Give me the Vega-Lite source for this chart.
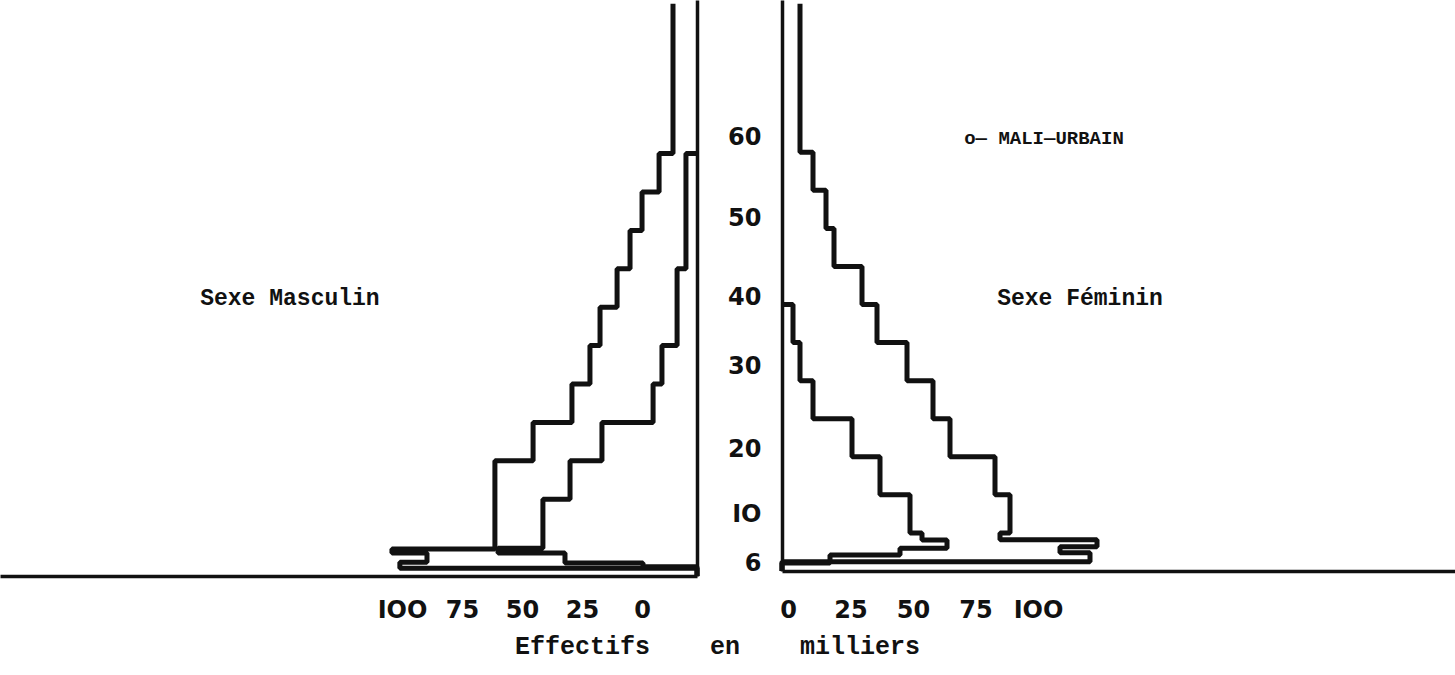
{
  "$schema": "https://vega.github.io/schema/vega-lite/v6.json",
  "padding": 0,
  "background": "white",
  "bounds": "flush",
  "spacing": 85,
  "config": {"view": {"stroke": null}},
  "datasets": {
    "pyramide": [
      {"sexe": "Masculin", "serie": "externe", "age": 5, "effectif": 0},
      {"sexe": "Masculin", "serie": "externe", "age": 6.0, "effectif": 123.8},
      {"sexe": "Masculin", "serie": "externe", "age": 6.8, "effectif": 112.5},
      {"sexe": "Masculin", "serie": "externe", "age": 8.0, "effectif": 127.1},
      {"sexe": "Masculin", "serie": "externe", "age": 8.5, "effectif": 84.2},
      {"sexe": "Masculin", "serie": "externe", "age": 20, "effectif": 68.3},
      {"sexe": "Masculin", "serie": "externe", "age": 25, "effectif": 52.1},
      {"sexe": "Masculin", "serie": "externe", "age": 30, "effectif": 44.6},
      {"sexe": "Masculin", "serie": "externe", "age": 35, "effectif": 40.4},
      {"sexe": "Masculin", "serie": "externe", "age": 40, "effectif": 33.3},
      {"sexe": "Masculin", "serie": "externe", "age": 45, "effectif": 27.9},
      {"sexe": "Masculin", "serie": "externe", "age": 50, "effectif": 22.9},
      {"sexe": "Masculin", "serie": "externe", "age": 55, "effectif": 15.8},
      {"sexe": "Masculin", "serie": "externe", "age": 60, "effectif": 10.0},
      {"sexe": "Masculin", "serie": "externe", "age": 79.5, "effectif": 10.0},
      {"sexe": "Masculin", "serie": "interne", "age": 5, "effectif": 0},
      {"sexe": "Masculin", "serie": "interne", "age": 6.2, "effectif": 22.5},
      {"sexe": "Masculin", "serie": "interne", "age": 6.7, "effectif": 55},
      {"sexe": "Masculin", "serie": "interne", "age": 8.0, "effectif": 82.9},
      {"sexe": "Masculin", "serie": "interne", "age": 8.6, "effectif": 64.2},
      {"sexe": "Masculin", "serie": "interne", "age": 15, "effectif": 52.9},
      {"sexe": "Masculin", "serie": "interne", "age": 20, "effectif": 39.6},
      {"sexe": "Masculin", "serie": "interne", "age": 25, "effectif": 18.3},
      {"sexe": "Masculin", "serie": "interne", "age": 30, "effectif": 14.6},
      {"sexe": "Masculin", "serie": "interne", "age": 35, "effectif": 8.3},
      {"sexe": "Masculin", "serie": "interne", "age": 45, "effectif": 4.6},
      {"sexe": "Masculin", "serie": "interne", "age": 60, "effectif": 0},
      {"sexe": "Féminin", "serie": "externe", "age": 5, "effectif": 0},
      {"sexe": "Féminin", "serie": "externe", "age": 6.2, "effectif": 123.2},
      {"sexe": "Féminin", "serie": "externe", "age": 7.4, "effectif": 111.2},
      {"sexe": "Féminin", "serie": "externe", "age": 8.2, "effectif": 126},
      {"sexe": "Féminin", "serie": "externe", "age": 9.1, "effectif": 87.2},
      {"sexe": "Féminin", "serie": "externe", "age": 10, "effectif": 91.2},
      {"sexe": "Féminin", "serie": "externe", "age": 15, "effectif": 85.2},
      {"sexe": "Féminin", "serie": "externe", "age": 20, "effectif": 67.2},
      {"sexe": "Féminin", "serie": "externe", "age": 25, "effectif": 60.4},
      {"sexe": "Féminin", "serie": "externe", "age": 30, "effectif": 50},
      {"sexe": "Féminin", "serie": "externe", "age": 35, "effectif": 38},
      {"sexe": "Féminin", "serie": "externe", "age": 40, "effectif": 32},
      {"sexe": "Féminin", "serie": "externe", "age": 45, "effectif": 20.8},
      {"sexe": "Féminin", "serie": "externe", "age": 50, "effectif": 17.6},
      {"sexe": "Féminin", "serie": "externe", "age": 55, "effectif": 12.4},
      {"sexe": "Féminin", "serie": "externe", "age": 60, "effectif": 7.2},
      {"sexe": "Féminin", "serie": "externe", "age": 79.5, "effectif": 7.2},
      {"sexe": "Féminin", "serie": "interne", "age": 5, "effectif": 0},
      {"sexe": "Féminin", "serie": "interne", "age": 6.05, "effectif": 19.2},
      {"sexe": "Féminin", "serie": "interne", "age": 7.1, "effectif": 47.2},
      {"sexe": "Féminin", "serie": "interne", "age": 8.0, "effectif": 66},
      {"sexe": "Féminin", "serie": "interne", "age": 9.07, "effectif": 56},
      {"sexe": "Féminin", "serie": "interne", "age": 10, "effectif": 51.2},
      {"sexe": "Féminin", "serie": "interne", "age": 15, "effectif": 39.2},
      {"sexe": "Féminin", "serie": "interne", "age": 20, "effectif": 28},
      {"sexe": "Féminin", "serie": "interne", "age": 25, "effectif": 12.4},
      {"sexe": "Féminin", "serie": "interne", "age": 30, "effectif": 7.2},
      {"sexe": "Féminin", "serie": "interne", "age": 35, "effectif": 4.4},
      {"sexe": "Féminin", "serie": "interne", "age": 40, "effectif": 0}
    ],
    "notes": [
      {"sexe": "Masculin", "texte": "Sexe Masculin", "taille": 23, "age": 41.2, "effectif": 169.6},
      {"sexe": "Féminin", "texte": "Sexe Féminin", "taille": 23, "age": 40.9, "effectif": 119.2},
      {"sexe": "Féminin", "texte": "o— MALI—URBAIN", "taille": 19, "age": 61.9, "effectif": 104.8}
    ]
  },
  "hconcat": [
    {
      "width": 697,
      "height": 576,
      "encoding": {
        "x": {
          "field": "effectif", "type": "quantitative",
          "scale": {"domain": [0, 290.4], "reverse": true, "nice": false, "zero": false},
          "axis": {
            "values": [0, 25, 50, 75, 100],
            "labelOffset": -55, "labelPadding": 22, "labelFlush": false, "labelOverlap": false,
            "ticks": false, "grid": false,
            "domainColor": "#111", "domainWidth": 3.5,
            "labelFont": "DejaVu Sans", "labelFontWeight": "bold", "labelFontSize": 24, "labelColor": "#111",
            "labelExpr": "datum.value == 100 ? 'IOO' : datum.label",
            "title": "Effectifs\u00a0\u00a0\u00a0\u00a0en\u00a0\u00a0\u00a0\u00a0milliers",
            "titleFont": "Liberation Mono", "titleFontSize": 25, "titleFontWeight": "bold", "titleColor": "#111",
            "titleX": 717, "titleY": 69, "titleAlign": "center", "titleBaseline": "middle", "titleAngle": 0
          }
        },
        "y": {
          "field": "age", "type": "quantitative",
          "scale": {"domain": [5, 80], "nice": false, "zero": false},
          "axis": {"orient": "right", "labels": false, "ticks": false, "grid": false, "title": null, "domainColor": "#111", "domainWidth": 3.5}
        }
      },
      "layer": [
        {
          "data": {"name": "pyramide"},
          "transform": [{"filter": "datum.sexe === 'Masculin'"}],
          "mark": {"type": "line", "interpolate": "step-before", "strokeWidth": 5, "color": "#111", "strokeJoin": "bevel"},
          "encoding": {"detail": {"field": "serie"}, "order": {"field": "age", "type": "quantitative"}}
        },
        {
          "data": {"name": "notes"},
          "transform": [{"filter": "datum.sexe === 'Masculin'"}],
          "mark": {"type": "text", "font": "Liberation Mono", "fontWeight": "bold", "color": "#111", "align": "center", "baseline": "middle"},
          "encoding": {"text": {"field": "texte"}, "size": {"field": "taille", "type": "quantitative", "scale": null}}
        }
      ]
    },
    {
      "width": 673,
      "height": 571,
      "encoding": {
        "x": {
          "field": "effectif", "type": "quantitative",
          "scale": {"domain": [0, 269.2], "nice": false, "zero": false},
          "axis": {
            "values": [0, 25, 50, 75, 100],
            "labelOffset": 6, "labelPadding": 27, "labelFlush": false, "labelOverlap": false,
            "ticks": false, "grid": false,
            "domainColor": "#111", "domainWidth": 3.5,
            "labelFont": "DejaVu Sans", "labelFontWeight": "bold", "labelFontSize": 24, "labelColor": "#111",
            "labelExpr": "datum.value == 100 ? 'IOO' : datum.label",
            "title": null
          }
        },
        "y": {
          "field": "age", "type": "quantitative",
          "scale": {"domain": [5, 80], "nice": false, "zero": false},
          "axis": {
            "orient": "left", "values": [6, 10, 20, 30, 40, 50, 60],
            "ticks": false, "grid": false, "title": null,
            "domainColor": "#111", "domainWidth": 3.5,
            "labelPadding": 21, "labelOverlap": false, "labelFlush": false,
            "labelFont": "DejaVu Sans", "labelFontWeight": "bold", "labelFontSize": 24, "labelColor": "#111",
            "labelExpr": "datum.value == 10 ? 'IO' : datum.label",
            "labelOffset": {
              "condition": [
                {"test": "datum.value == 60", "value": -15},
                {"test": "datum.value == 50", "value": -10},
                {"test": "datum.value == 40", "value": -7},
                {"test": "datum.value == 30", "value": -14},
                {"test": "datum.value == 20", "value": -7},
                {"test": "datum.value == 10", "value": -18}
              ],
              "value": 0
            }
          }
        }
      },
      "layer": [
        {
          "data": {"name": "pyramide"},
          "transform": [{"filter": "datum.sexe === 'Féminin'"}],
          "mark": {"type": "line", "interpolate": "step-before", "strokeWidth": 5, "color": "#111", "strokeJoin": "bevel"},
          "encoding": {"detail": {"field": "serie"}, "order": {"field": "age", "type": "quantitative"}}
        },
        {
          "data": {"name": "notes"},
          "transform": [{"filter": "datum.sexe === 'Féminin'"}],
          "mark": {"type": "text", "font": "Liberation Mono", "fontWeight": "bold", "color": "#111", "align": "center", "baseline": "middle"},
          "encoding": {"text": {"field": "texte"}, "size": {"field": "taille", "type": "quantitative", "scale": null}}
        }
      ]
    }
  ]
}
